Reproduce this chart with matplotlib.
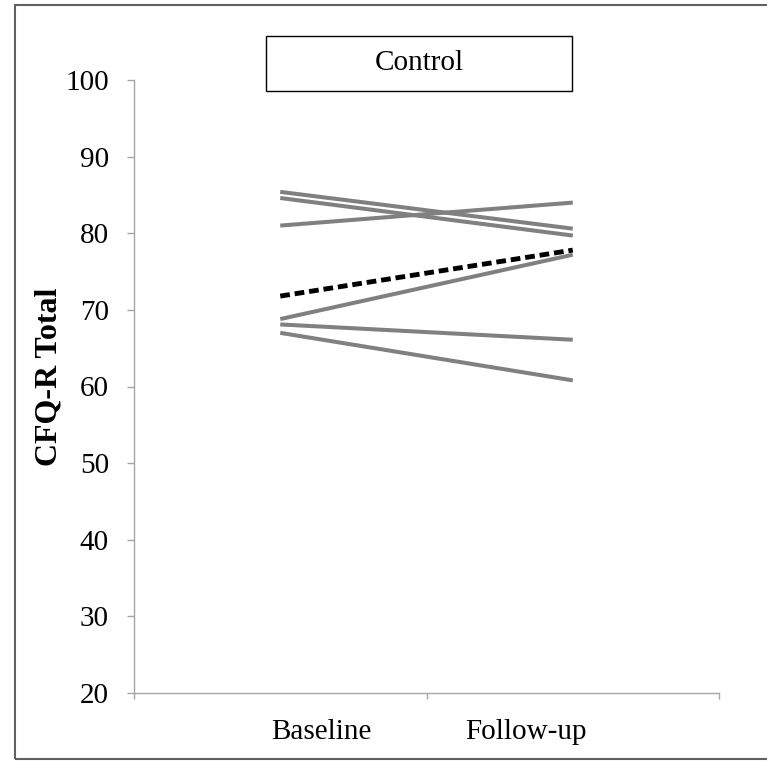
import matplotlib
matplotlib.use("Agg")
import matplotlib.pyplot as plt
from matplotlib.patches import Rectangle
from matplotlib.transforms import ScaledTranslation

plt.rcParams['font.family'] = ['Liberation Serif', 'DejaVu Serif']

# data
timepoints = ['Baseline', 'Follow-up']
baseline = [85.4, 84.6, 81.0, 68.8, 68.1, 67.0]
follow_up = [80.6, 79.7, 84.0, 77.2, 66.1, 60.8]
dashed_line = [71.8, 77.8]
y_ticks = [20, 30, 40, 50, 60, 70, 80, 90, 100]
group_title = 'Control'
y_title = 'CFQ-R Total'

fig = plt.figure(figsize=(7.67, 7.61), dpi=100)
ax = fig.add_axes([134 / 767, 68 / 761, 585 / 767, 613 / 761])

x = [0, 1]
for b, f in zip(baseline, follow_up):
    ax.plot(x, [b, f], color='#808080', lw=2.9, solid_capstyle='butt')
ax.plot(x, dashed_line, color='black', lw=3.5, dashes=(2, 1), dash_capstyle='butt')

ax.set_xlim(-0.5, 1.5)
ax.set_ylim(20, 100)
ax.set_yticks(y_ticks)
ax.tick_params(axis='y', labelsize=21, length=5, width=1, color='#a6a6a6', pad=13)

# category boundaries carry the tick marks, labels sit on minor ticks
ax.set_xticks([-0.5, 0.5, 1.5])
ax.set_xticklabels([])
ax.tick_params(axis='x', which='major', length=4.5, width=1, color='#a6a6a6')
ax.set_xticks(x, minor=True)
ax.set_xticklabels(timepoints, minor=True)
ax.tick_params(axis='x', which='minor', length=0, labelsize=21, pad=19)
shifts = [0.41, -0.47]
for lab, dx in zip(ax.get_xticklabels(minor=True), shifts):
    lab.set_transform(lab.get_transform() + ScaledTranslation(dx, 0, fig.dpi_scale_trans))

for side in ['top', 'right']:
    ax.spines[side].set_visible(False)
for side in ['left', 'bottom']:
    ax.spines[side].set_color('#a6a6a6')
    ax.spines[side].set_linewidth(1)

ax.set_ylabel(y_title, fontsize=23, fontweight='bold')
ax.yaxis.set_label_coords(-0.121, 0.516)

# title box
fig.patches.append(Rectangle((266 / 767, 670 / 761), 306 / 767, 55 / 761,
                             transform=fig.transFigure, fill=False,
                             edgecolor='black', lw=1))
fig.text(419 / 767, 697.5 / 761, group_title, fontsize=21, ha='center', va='center')

# outer frame
fig.patches.append(Rectangle((15 / 767, 2 / 761), 1.0, 754 / 761,
                             transform=fig.transFigure, fill=False,
                             edgecolor='#606060', lw=1.5))

fig.savefig('out.png', dpi=100)
